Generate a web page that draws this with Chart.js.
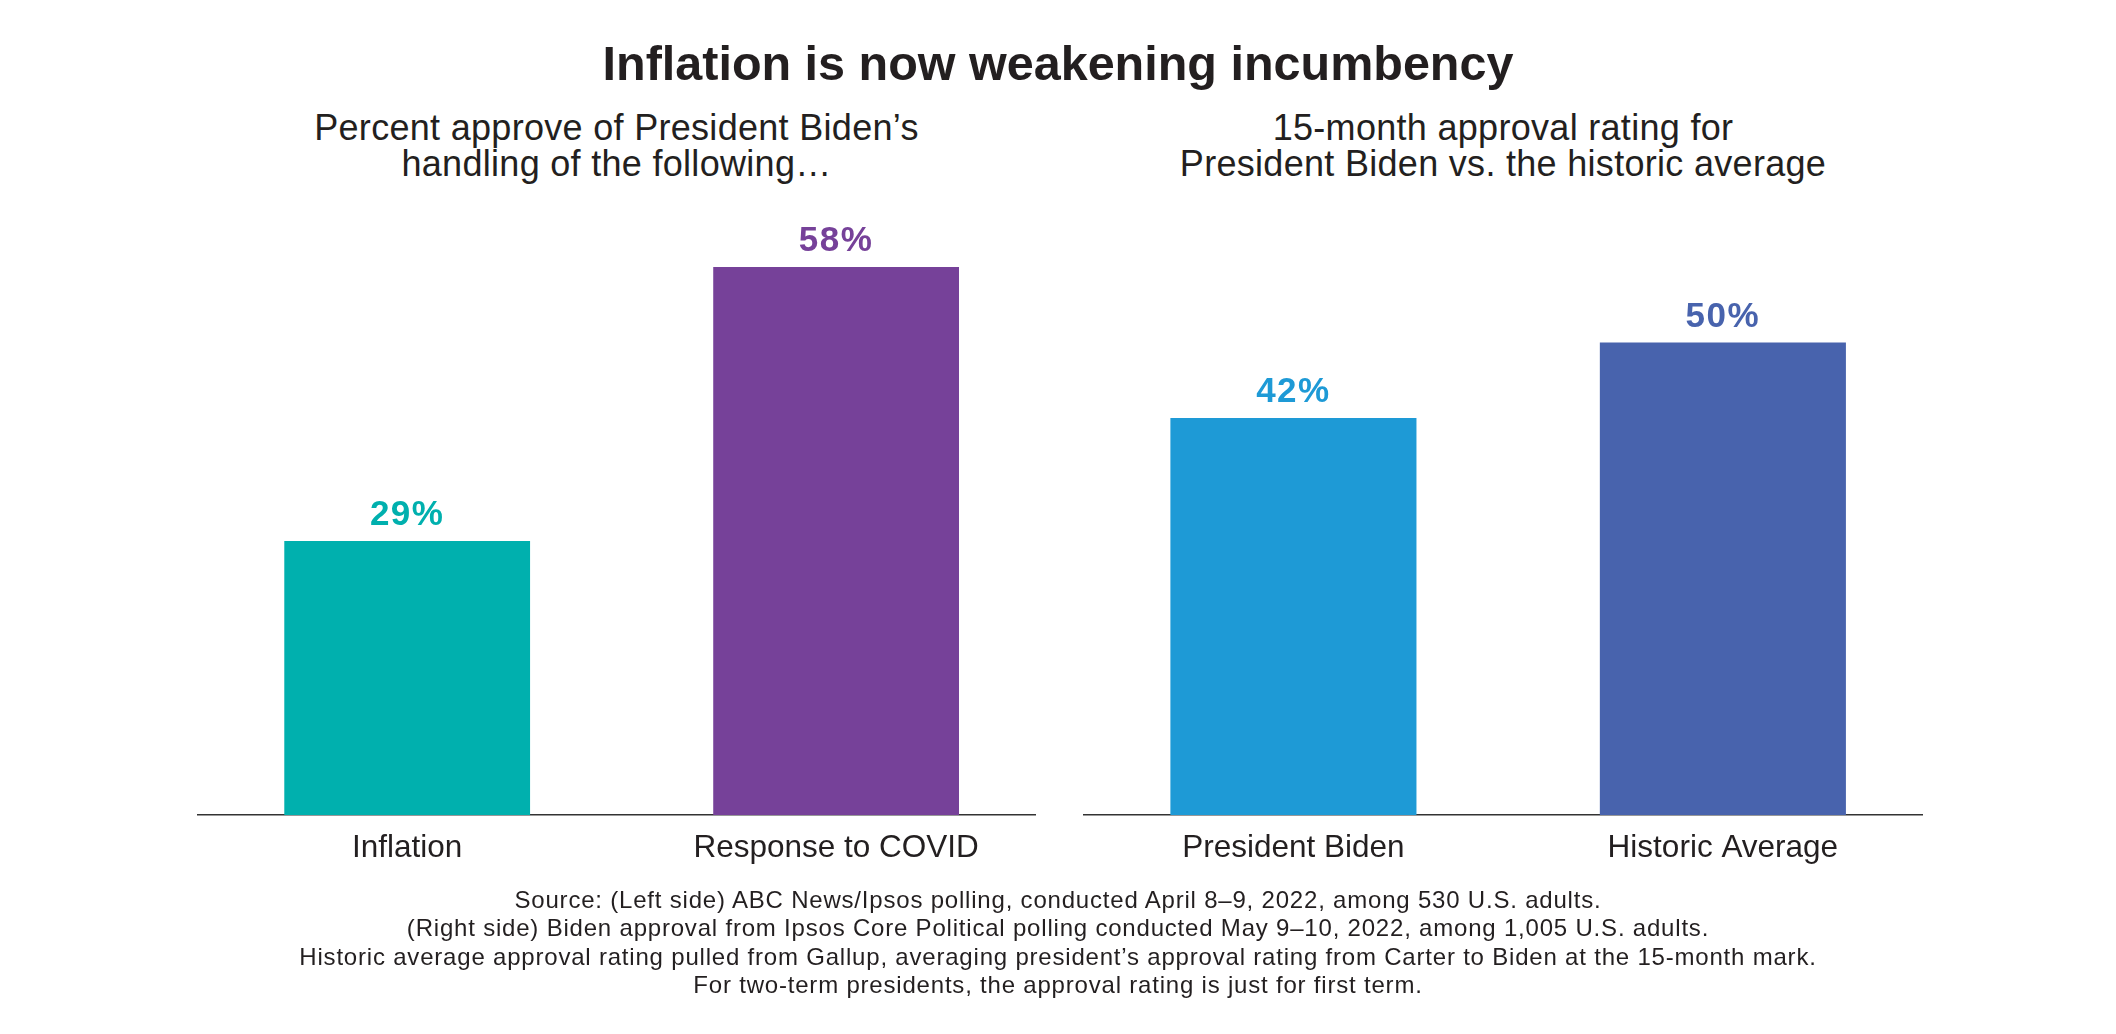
<!DOCTYPE html>
<html>
<head>
<meta charset="utf-8">
<script src="https://cdn.jsdelivr.net/npm/chart.js@4.4.1/dist/chart.umd.min.js"></script>
<style>
    html, body { margin: 0; padding: 0; background: #fff; }
    body { width: 2116px; height: 1034px; position: relative; overflow: hidden; font-family: 'Liberation Sans', Arial, sans-serif; color: #231F20; }
    .title { position: absolute; left: 0; width: 2116px; top: 39px; text-align: center; font-size: 48.5px; line-height: 48px; font-weight: bold; }
    .sub { position: absolute; top: 110px; text-align: center; font-size: 36px; line-height: 36px; letter-spacing: 0.3px; }
    .panel { position: absolute; top: 180px; height: 720px; }
    .note { position: absolute; left: 0; width: 2116px; top: 886px; text-align: center; font-size: 24px; line-height: 28.3px; letter-spacing: 0.8px; }
</style>
</head>
<body>
<div class="title">Inflation is now weakening incumbency</div>
<div class="sub" style="left:197px;width:839px">Percent approve of President Biden’s<br>handling of the following…</div>
<div class="sub" style="left:1083px;width:840px">15-month approval rating for<br>President Biden vs. the historic average</div>
<div class="panel" style="left:197px;width:839px"><canvas id="leftChart"></canvas></div>
<div class="panel" style="left:1083px;width:840px"><canvas id="rightChart"></canvas></div>
<div class="note">
    Source: (Left side) ABC News/Ipsos polling, conducted April 8–9, 2022, among 530 U.S. adults.<br>
    (Right side) Biden approval from Ipsos Core Political polling conducted May 9–10, 2022, among 1,005 U.S. adults.<br>
    Historic average approval rating pulled from Gallup, averaging president’s approval rating from Carter to Biden at the 15-month mark.<br>
    For two-term presidents, the approval rating is just for first term.
</div>
<script>
const leftCategories = ['Inflation', 'Response to COVID'];
const leftValues = [29, 58];
const rightCategories = ['President Biden', 'Historic Average'];
const rightValues = [42, 50];
const yMax = 60;

// percent labels sitting on top of each bar
const valueLabels = {
    id: 'valueLabels',
    afterDatasetsDraw(chart) {
        const ctx = chart.ctx;
        const ds = chart.data.datasets[0];
        const meta = chart.getDatasetMeta(0);
        ctx.save();
        ctx.font = 'bold 35px "Liberation Sans", Arial, sans-serif';
        ctx.letterSpacing = '1.5px';
        ctx.textAlign = 'center';
        ctx.textBaseline = 'alphabetic';
        meta.data.forEach((bar, i) => {
            ctx.fillStyle = ds.backgroundColor[i];
            ctx.fillText(ds.data[i].y + '%', bar.x, bar.y - 16);
        });
        ctx.restore();
    }
};

function barPanel(labels, values) {
    const colorMap = {
        'Inflation':         '#00B0AE',
        'Response to COVID': '#764199',
        'President Biden':   '#1E9AD6',
        'Historic Average':  '#4863AD'
    };
    // numeric x so the baseline can run a little short of the outer bars' slots, as in the source
    return {
        type: 'bar',
        data: {
            datasets: [{
                data: values.map((v, i) => ({ x: i, y: v })),
                backgroundColor: labels.map(l => colorMap[l]),
                borderWidth: 0,
                categoryPercentage: 1,
                barPercentage: 0.573
            }]
        },
        options: {
            responsive: true,
            maintainAspectRatio: false,
            animation: false,
            layout: { padding: { top: 68, bottom: 5, left: 0, right: 0 } },
            plugins: { legend: { display: false }, tooltip: { enabled: false } },
            scales: {
                x: {
                    type: 'linear',
                    offset: false,
                    min: -0.49,
                    max: 1.466,
                    grid: { display: false, drawTicks: false, offset: false },
                    border: { display: true, color: '#333333', width: 1.5 },
                    ticks: {
                        stepSize: 1,
                        includeBounds: false,
                        autoSkip: false,
                        maxRotation: 0,
                        color: '#231F20',
                        padding: 14,
                        font: { size: 31.5, family: '"Liberation Sans", Arial, sans-serif' },
                        callback: v => labels[v] ?? null
                    },
                    afterFit: s => { s.height = 80; }
                },
                y: { display: false, min: 0, max: yMax }
            }
        },
        plugins: [valueLabels]
    };
}

new Chart(document.getElementById('leftChart'), barPanel(leftCategories, leftValues));
new Chart(document.getElementById('rightChart'), barPanel(rightCategories, rightValues));
</script>
</body>
</html>
